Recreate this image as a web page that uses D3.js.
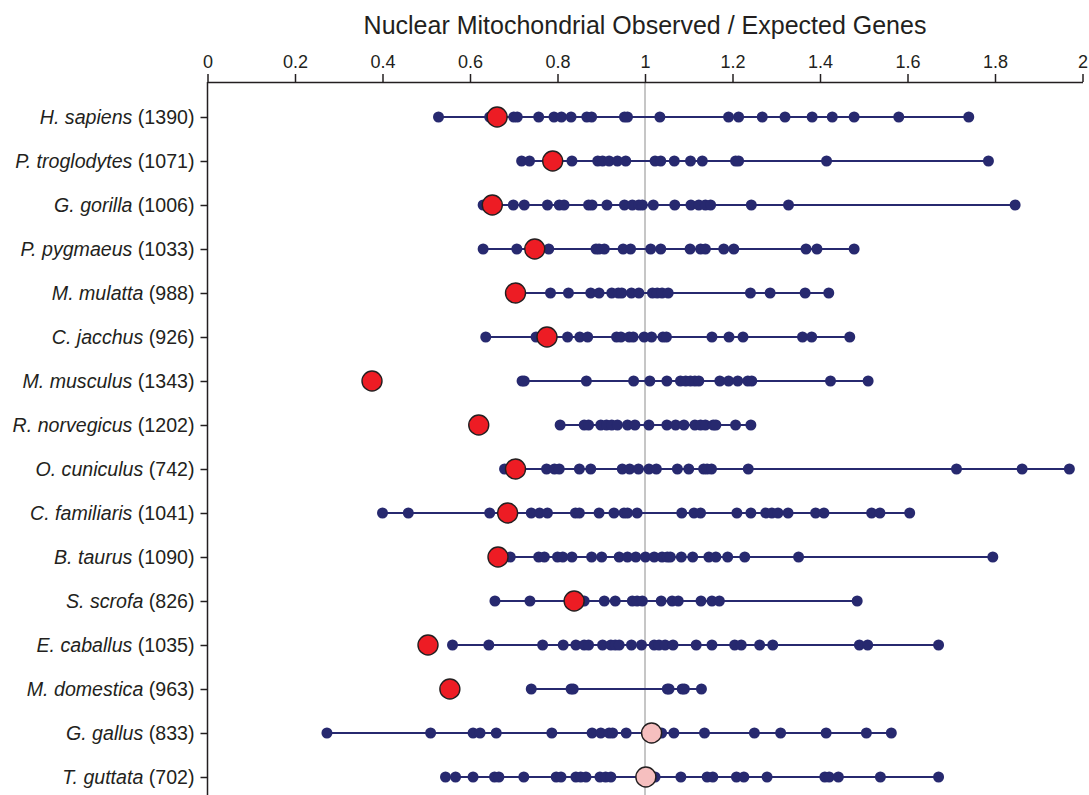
<!DOCTYPE html>
<html>
<head>
<meta charset="utf-8">
<script src="https://cdn.jsdelivr.net/npm/d3@7"></script>
<style>
  body { margin: 0; background: #fff; }
  svg { display: block; font-family: "Liberation Sans", Arial, sans-serif; }
</style>
</head>
<body>
<svg id="chart" width="1089" height="795"></svg>
<script>
// species labels, gene counts
const species = ["H. sapiens","P. troglodytes","G. gorilla","P. pygmaeus","M. mulatta","C. jacchus",
  "M. musculus","R. norvegicus","O. cuniculus","C. familiaris","B. taurus","S. scrofa",
  "E. caballus","M. domestica","G. gallus","T. guttata"];
const counts = [1390,1071,1006,1033,988,926,1343,1202,742,1041,1090,826,1035,963,833,702];

// observed value (big circle) per species, and whether it is the pale (bird) marker
const observed = [0.662,0.789,0.651,0.748,0.704,0.776,0.376,0.620,0.704,0.686,0.664,0.838,0.504,0.554,1.015,1.002];
const pale = [false,false,false,false,false,false,false,false,false,false,false,false,false,false,true,true];

// expected values (small dots) per species
const expected = [
  [0.528,0.645,0.700,0.708,0.757,0.792,0.809,0.831,0.867,0.878,0.953,0.960,1.034,1.191,1.214,1.268,1.320,1.382,1.428,1.478,1.580,1.740],
  [0.718,0.736,0.833,0.892,0.903,0.918,0.937,0.956,1.023,1.036,1.067,1.104,1.131,1.207,1.214,1.415,1.785],
  [0.630,0.699,0.724,0.777,0.804,0.815,0.871,0.879,0.913,0.953,0.971,0.986,0.994,1.019,1.068,1.105,1.123,1.138,1.150,1.243,1.328,1.846],
  [0.630,0.707,0.780,0.888,0.895,0.907,0.950,0.967,1.013,1.036,1.103,1.127,1.138,1.180,1.203,1.368,1.393,1.478],
  [0.704,0.784,0.825,0.876,0.895,0.924,0.939,0.947,0.969,0.986,1.017,1.028,1.039,1.053,1.241,1.286,1.366,1.420],
  [0.636,0.751,0.823,0.851,0.869,0.935,0.945,0.964,0.973,0.998,1.015,1.041,1.049,1.153,1.192,1.224,1.360,1.381,1.468],
  [0.719,0.724,0.866,0.974,1.011,1.050,1.081,1.093,1.104,1.114,1.123,1.171,1.191,1.212,1.235,1.244,1.424,1.510],
  [0.806,0.861,0.871,0.899,0.912,0.924,0.937,0.960,0.977,1.009,1.050,1.070,1.089,1.114,1.127,1.138,1.156,1.162,1.207,1.242],
  [0.679,0.775,0.793,0.804,0.850,0.876,0.948,0.965,0.985,1.009,1.026,1.074,1.100,1.134,1.142,1.152,1.236,1.712,1.862,1.970],
  [0.400,0.459,0.645,0.740,0.759,0.777,0.841,0.850,0.895,0.929,0.952,0.960,0.982,1.084,1.112,1.127,1.210,1.242,1.276,1.290,1.304,1.327,1.390,1.409,1.518,1.537,1.605],
  [0.692,0.757,0.770,0.800,0.812,0.833,0.878,0.901,0.941,0.960,0.979,1.001,1.021,1.039,1.051,1.058,1.083,1.109,1.146,1.162,1.189,1.228,1.351,1.795],
  [0.657,0.737,0.861,0.907,0.932,0.971,0.982,0.994,1.037,1.062,1.076,1.128,1.153,1.170,1.485],
  [0.560,0.643,0.766,0.813,0.842,0.861,0.871,0.903,0.922,0.932,0.941,0.969,0.992,1.021,1.032,1.046,1.064,1.117,1.153,1.205,1.220,1.262,1.292,1.490,1.509,1.671],
  [0.740,0.831,0.836,1.051,1.055,1.085,1.090,1.129],
  [0.273,0.510,0.607,0.623,0.660,0.787,0.879,0.899,0.918,0.926,0.957,1.038,1.066,1.136,1.250,1.310,1.414,1.506,1.563],
  [0.544,0.567,0.607,0.656,0.666,0.723,0.797,0.808,0.842,0.853,0.865,0.897,0.910,0.922,1.023,1.082,1.142,1.155,1.209,1.226,1.279,1.411,1.421,1.442,1.538,1.671]
];
const xTicks = [0,0.2,0.4,0.6,0.8,1,1.2,1.4,1.6,1.8,2];

const navy = "#27296f", red = "#ed1c24", pink = "#f6bfbf", ink = "#231f20";

const svg = d3.select("#chart");
const plotLeft = 207.5, plotRight = 1082.5, plotTop = 82, plotBottom = 795;

const x = d3.scaleLinear().domain([0, 2]).range([plotLeft, plotRight]);
const y = d3.scalePoint().domain(species).range([117, 777]);

// reference line at 1
svg.append("line")
  .attr("x1", x(1)).attr("x2", x(1))
  .attr("y1", plotTop).attr("y2", plotBottom)
  .style("stroke", "#c6c6c6").style("stroke-width", 2);

// title
svg.append("text")
  .attr("x", (plotLeft + plotRight) / 2).attr("y", 34)
  .attr("text-anchor", "middle")
  .style("font-size", "25px").style("fill", ink)
  .text("Nuclear Mitochondrial Observed / Expected Genes");

// top axis
let gx = svg.append("g")
  .attr("transform", "translate(0," + plotTop + ")")
  .call(d3.axisTop(x).tickValues(xTicks).tickSize(8).tickSizeOuter(0).tickPadding(6).tickFormat(d3.format("~g")));
gx.selectAll("text").style("font-size", "18px").style("fill", ink).style("font-family", "Liberation Sans, Arial, sans-serif");
gx.selectAll("line,path").style("stroke", ink).style("stroke-width", 1.5);

// left axis
let gy = svg.append("g")
  .attr("transform", "translate(" + plotLeft + ",0)")
  .call(d3.axisLeft(y).tickSize(7).tickSizeOuter(0).tickFormat(""));
gy.select("path").remove();
gy.selectAll("line").style("stroke", ink).style("stroke-width", 1.5);
svg.append("line")
  .attr("x1", plotLeft).attr("x2", plotLeft).attr("y1", plotTop).attr("y2", plotBottom)
  .style("stroke", ink).style("stroke-width", 1.5);

// row labels: italic species + plain count
let labels = svg.append("g").selectAll("text")
  .data(species)
  .enter()
  .append("text")
  .attr("x", plotLeft - 13)
  .attr("y", function (d) { return y(d); })
  .attr("dy", "0.36em")
  .attr("text-anchor", "end")
  .style("font-size", "19.6px")
  .style("fill", ink);
labels.append("tspan").style("font-style", "italic").text(function (d) { return d; });
labels.append("tspan").text(function (d, i) { return " (" + counts[i] + ")"; });

// rows
let rows = svg.append("g").selectAll("g")
  .data(species)
  .enter()
  .append("g")
  .attr("transform", function (d) { return "translate(0," + y(d) + ")"; });

rows.append("line")
  .attr("x1", function (d, i) { return x(d3.min(expected[i])); })
  .attr("x2", function (d, i) { return x(d3.max(expected[i])); })
  .style("stroke", navy)
  .style("stroke-width", 2);

rows.each(function (d, i) {
  d3.select(this).selectAll("circle.dot")
    .data(expected[i])
    .enter()
    .append("circle")
    .attr("class", "dot")
    .attr("cx", function (v) { return x(v); })
    .attr("cy", 0)
    .attr("r", 5.5)
    .style("fill", navy);
});

rows.append("circle")
  .attr("cx", function (d, i) { return x(observed[i]); })
  .attr("cy", 0)
  .attr("r", 10)
  .style("fill", function (d, i) { return pale[i] ? pink : red; })
  .style("stroke", ink)
  .style("stroke-width", 1.4);
</script>
</body>
</html>
